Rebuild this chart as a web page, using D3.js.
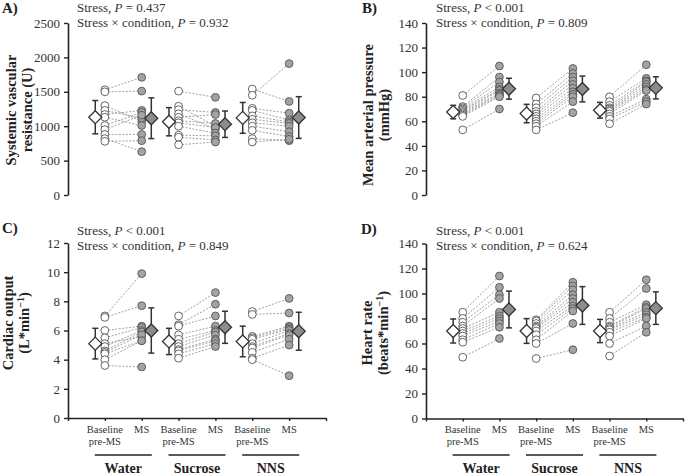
<!DOCTYPE html>
<html>
<head>
<meta charset="utf-8">
<script src="https://cdn.jsdelivr.net/npm/d3@7"></script>
<style>
  html, body { margin: 0; padding: 0; background: #fff; }
  svg { display: block; font-family: "Liberation Serif", "Times New Roman", serif; }
</style>
</head>
<body>
<svg id="chart" width="685" height="475"></svg>
<script>
// ---------------- DATA ----------------
const conditions = ["Water", "Sucrose", "NNS"];
const timeLabels = [["Baseline", "pre-MS"], ["MS"]];

// A) Systemic vascular resistance (U) — per condition: Water, Sucrose, NNS
const svrBaseline = [
  [1530, 1500, 1300, 1230, 1170, 1130, 1010, 950, 880, 820, 780],
  [1510, 1290, 1240, 1180, 1130, 1080, 1050, 1000, 870, 840, 730],
  [1540, 1450, 1260, 1230, 1150, 1100, 1050, 1000, 940, 820, 770]
];
const svrMS = [
  [1710, 1510, 1070, 1120, 1230, 1010, 1200, 1160, 880, 630, 790],
  [1420, 1000, 1200, 960, 1170, 1040, 980, 900, 860, 800, 770],
  [1360, 1910, 1190, 1090, 1060, 1040, 1000, 920, 850, 790, 810]
];
const svrBaseMean = [1131, 1065, 1121];
const svrBaseSD = [242, 205, 224];
const svrMSMean = [1116, 1029, 1126];
const svrMSSD = [296, 192, 303];
const svrTicks = [0, 500, 1000, 1500, 2000, 2500];

// B) Mean arterial pressure (mmHg)
const mapBaseline = [
  [81, 72, 71, 70, 69, 68, 67, 66, 65, 64, 53],
  [79, 74, 71, 68, 66, 64, 62, 60, 58, 56, 53],
  [80, 76, 73, 71, 70, 69, 68, 66, 64, 62, 58]
];
const mapMS = [
  [105, 96, 92, 88, 86, 85, 83, 82, 81, 80, 70],
  [103, 99, 96, 93, 90, 87, 84, 82, 80, 76, 67],
  [106, 95, 93, 92, 90, 88, 86, 85, 78, 76, 74]
];
const mapBaseMean = [67.5, 66.3, 69];
const mapBaseSD = [5.5, 7.5, 6.4];
const mapMSMean = [86.5, 86.3, 87.2];
const mapMSSD = [8.5, 10.5, 9];
const mapTicks = [0, 20, 40, 60, 80, 100, 120, 140];

// C) Cardiac output (L*min-1)
const coBaseline = [
  [7.0, 6.9, 6.0, 5.5, 5.1, 4.9, 4.6, 4.5, 4.4, 4.0, 3.6],
  [7.0, 6.4, 6.3, 5.7, 5.4, 5.1, 4.9, 4.7, 4.6, 4.4, 4.1],
  [7.3, 7.1, 5.6, 5.5, 5.4, 5.1, 4.9, 4.8, 4.5, 4.1, 4.0]
];
const coMS = [
  [9.9, 7.7, 6.3, 6.2, 5.6, 6.0, 5.9, 5.7, 5.3, 5.3, 3.5],
  [8.6, 7.8, 7.0, 6.3, 6.0, 5.9, 5.7, 5.4, 5.3, 5.1, 4.9],
  [8.2, 7.2, 6.3, 6.2, 6.1, 6.0, 5.8, 5.7, 5.4, 5.0, 2.9]
];
const coBaseMean = [5.1, 5.25, 5.25];
const coBaseSD = [1.05, 0.9, 1.05];
const coMSMean = [6.0, 6.22, 5.95];
const coMSSD = [1.55, 1.1, 1.3];
const coTicks = [0, 2, 4, 6, 8, 10, 12];

// D) Heart rate (beats*min-1)
const hrBaseline = [
  [85, 80, 77, 74, 72, 70, 68, 66, 63, 61, 49],
  [79, 78, 76, 74, 73, 72, 70, 67, 63, 60, 48],
  [85, 80, 77, 74, 73, 72, 71, 69, 66, 60, 50]
];
const hrMS = [
  [114, 105, 99, 96, 85, 82, 80, 78, 76, 73, 64],
  [109, 106, 103, 99, 96, 93, 90, 88, 86, 76, 55],
  [111, 104, 91, 89, 88, 85, 83, 81, 80, 74, 69]
];
const hrBaseMean = [70, 70, 70];
const hrBaseSD = [9.6, 9.9, 9.3];
const hrMSMean = [87.2, 90.4, 88.3];
const hrMSSD = [14.7, 15.1, 13];
const hrTicks = [0, 20, 40, 60, 80, 100, 120, 140];

// ---------------- DRAWING ----------------
const svg = d3.select("#chart");

const panels = [
  { letter: "A)", base: svrBaseline, ms: svrMS, bm: svrBaseMean, bsd: svrBaseSD, mm: svrMSMean, msd: svrMSSD,
    ticks: svrTicks, ymax: 2500, x0: 68, x1: 326, yb: 195, yt: 23, xAxis: false,
    statP: "= 0.437", inter: "0.932",
    title: ["Systemic vascular", "resistance (U)"], titleX: [16, 32], titleY: 110,
    letterX: 2, letterY: 13, annX: 77, annY: [12, 27] },
  { letter: "B)", base: mapBaseline, ms: mapMS, bm: mapBaseMean, bsd: mapBaseSD, mm: mapMSMean, msd: mapMSSD,
    ticks: mapTicks, ymax: 140, x0: 426, x1: 683, yb: 195, yt: 23, xAxis: false,
    statP: "< 0.001", inter: "0.809",
    title: ["Mean arterial pressure", "(mmHg)"], titleX: [373, 389], titleY: 115,
    letterX: 362, letterY: 13, annX: 436, annY: [12, 27] },
  { letter: "C)", base: coBaseline, ms: coMS, bm: coBaseMean, bsd: coBaseSD, mm: coMSMean, msd: coMSSD,
    ticks: coTicks, ymax: 12, x0: 68, x1: 326, yb: 418, yt: 243, xAxis: true,
    statP: "< 0.001", inter: "0.849",
    title: ["Cardiac output", "(L*min|−1|)"], titleX: [13, 29], titleY: 323,
    letterX: 2, letterY: 233, annX: 77, annY: [235, 250] },
  { letter: "D)", base: hrBaseline, ms: hrMS, bm: hrBaseMean, bsd: hrBaseSD, mm: hrMSMean, msd: hrMSSD,
    ticks: hrTicks, ymax: 140, x0: 426, x1: 683, yb: 418.5, yt: 243.5, xAxis: true,
    statP: "< 0.001", inter: "0.624",
    title: ["Heart rate", "(beats*min|−1|)"], titleX: [372, 388], titleY: 333,
    letterX: 361, letterY: 234, annX: 436, annY: [235, 250] }
];

function addRichText(sel, str) {
  const parts = str.split("|");
  parts.forEach((p, i) => {
    if (!p) return;
    const t = sel.append("tspan").text(p);
    if (i % 2 === 1) t.attr("baseline-shift", "super").attr("font-size", "10px");
  });
}

panels.forEach(p => {
  const x = d3.scaleLinear().domain([0, 7]).range([p.x0, p.x1]);
  const y = d3.scaleLinear().domain([0, p.ymax]).range([p.yb, p.yt]);
  const g = svg.append("g");

  const ya = g.append("g")
    .attr("transform", `translate(${p.x0},0)`)
    .call(d3.axisLeft(y).tickValues(p.ticks).tickSize(4).tickSizeOuter(0).tickPadding(4).tickFormat(d3.format("d")));
  ya.select(".domain").attr("stroke", "#222").attr("stroke-width", 1.6);
  ya.selectAll(".tick line").attr("stroke", "#222").attr("stroke-width", 1.4);
  ya.selectAll(".tick text").attr("font-family", "Liberation Serif, serif").attr("font-size", "13px").attr("fill", "#333");

  if (p.xAxis) {
    const xa = g.append("g")
      .attr("transform", `translate(0,${p.yb})`)
      .call(d3.axisBottom(x).tickValues(d3.range(0, 8)).tickSize(3).tickSizeOuter(0).tickFormat(""));
    xa.select(".domain").attr("stroke", "#222").attr("stroke-width", 1.6);
    xa.selectAll(".tick line").attr("stroke", "#222").attr("stroke-width", 1.4);

    conditions.forEach((c, ci) => {
      const bx = x(1 + 2 * ci), mx = x(2 + 2 * ci);
      const t1 = g.append("text").attr("x", bx).attr("y", 433).attr("text-anchor", "middle")
        .attr("font-size", "10.5px").attr("fill", "#333");
      t1.append("tspan").attr("x", bx).text(timeLabels[0][0]);
      t1.append("tspan").attr("x", bx).attr("dy", 12).text(timeLabels[0][1]);
      g.append("text").attr("x", mx).attr("y", 433).attr("text-anchor", "middle")
        .attr("font-size", "10.5px").attr("fill", "#333").text(timeLabels[1][0]);
      const cx = (bx + mx) / 2;
      g.append("line").attr("x1", cx - 28.5).attr("x2", cx + 28.5).attr("y1", 455).attr("y2", 455)
        .attr("stroke", "#222").attr("stroke-width", 1.5);
      g.append("text").attr("x", cx).attr("y", 473).attr("text-anchor", "middle")
        .attr("font-size", "14px").attr("font-weight", "bold").attr("fill", "#222").text(c);
    });
  }

  conditions.forEach((c, ci) => {
    const bx = x(1 + 2 * ci), mx = x(2 + 2 * ci);
    g.append("g").selectAll("line").data(d3.range(p.base[ci].length)).join("line")
      .attr("x1", bx).attr("x2", mx)
      .attr("y1", i => y(p.base[ci][i])).attr("y2", i => y(p.ms[ci][i]))
      .attr("stroke", "#8a8a8a").attr("stroke-width", 0.8).attr("stroke-dasharray", "2,1.5");
  });

  conditions.forEach((c, ci) => {
    const bx = x(1 + 2 * ci), mx = x(2 + 2 * ci);
    g.append("g").selectAll("circle").data(p.base[ci]).join("circle")
      .attr("cx", bx).attr("cy", d => y(d)).attr("r", 3.9)
      .attr("fill", "#fff").attr("stroke", "#555").attr("stroke-width", 0.9);
    g.append("g").selectAll("circle").data(p.ms[ci]).join("circle")
      .attr("cx", mx).attr("cy", d => y(d)).attr("r", 3.9)
      .attr("fill", "#a3a3a3").attr("stroke", "#555").attr("stroke-width", 0.9);
  });

  const sumData = [];
  conditions.forEach((c, ci) => {
    sumData.push({ xv: 1 + 2 * ci - 0.26, m: p.bm[ci], sd: p.bsd[ci], fill: "#fff" });
    sumData.push({ xv: 2 + 2 * ci + 0.26, m: p.mm[ci], sd: p.msd[ci], fill: "#8c8c8c" });
  });
  const sg = g.append("g").selectAll("g").data(sumData).join("g");
  sg.append("line").attr("x1", d => x(d.xv)).attr("x2", d => x(d.xv))
    .attr("y1", d => y(d.m - d.sd)).attr("y2", d => y(d.m + d.sd))
    .attr("stroke", "#333").attr("stroke-width", 1.5);
  [-1, 1].forEach(s => {
    sg.append("line").attr("x1", d => x(d.xv) - 3).attr("x2", d => x(d.xv) + 3)
      .attr("y1", d => y(d.m + s * d.sd)).attr("y2", d => y(d.m + s * d.sd))
      .attr("stroke", "#333").attr("stroke-width", 1.5);
  });
  sg.append("path")
    .attr("d", d => {
      const cx = x(d.xv), cy = y(d.m), r = 6.5;
      return `M${cx},${cy - r}L${cx + r},${cy}L${cx},${cy + r}L${cx - r},${cy}Z`;
    })
    .attr("fill", d => d.fill).attr("stroke", "#333").attr("stroke-width", 1.3);

  svg.append("text").attr("x", p.letterX).attr("y", p.letterY)
    .attr("font-size", "15px").attr("font-weight", "bold").attr("fill", "#222").text(p.letter);

  const a1 = svg.append("text").attr("x", p.annX).attr("y", p.annY[0]).attr("font-size", "13px").attr("fill", "#333");
  a1.append("tspan").text("Stress, ");
  a1.append("tspan").attr("font-style", "italic").text("P");
  a1.append("tspan").text(" " + p.statP);
  const a2 = svg.append("text").attr("x", p.annX).attr("y", p.annY[1]).attr("font-size", "13px").attr("fill", "#333");
  a2.append("tspan").text("Stress × condition, ");
  a2.append("tspan").attr("font-style", "italic").text("P");
  a2.append("tspan").text(" = " + p.inter);

  p.title.forEach((line, li) => {
    const t = svg.append("text")
      .attr("transform", `translate(${p.titleX[li]},${p.titleY}) rotate(-90)`)
      .attr("text-anchor", "middle").attr("font-size", "14.5px").attr("font-weight", "bold").attr("fill", "#222");
    addRichText(t, line);
  });
});
</script>
</body>
</html>
